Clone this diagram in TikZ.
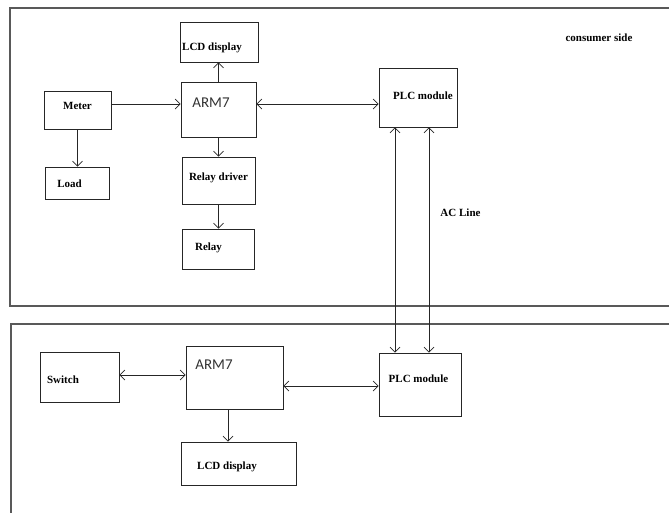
\documentclass[tikz,border=0pt]{standalone}
\usepackage{fontspec}
\setmainfont{Liberation Serif}
\newfontfamily\armfont{Carlito}
\usetikzlibrary{arrows.meta}

\begin{document}
\begin{tikzpicture}[x=1pt, y=-1pt, line width=0.7pt, color=black!85,
    box/.style={draw, rectangle, inner sep=0pt},
    lbl/.style={font=\bfseries\fontsize{11}{13}\selectfont, text=black},
    arm/.style={font=\armfont\fontsize{15}{17}\selectfont, text=black!80},
    frame/.style={draw=black!65, line width=1.1pt},
    arr/.style={-{Straight Barb[length=5pt,width=10pt]}},
    biarr/.style={{Straight Barb[length=5pt,width=10pt]}-{Straight Barb[length=5pt,width=10pt]}}]
    \useasboundingbox (0,0) rectangle (669,512);

    % the two sides
    \draw[frame] (10,8) rectangle (680,306);
    \draw[frame] (11,324) rectangle (680,525);

    % consumer side
    \node[box, minimum width=78pt, minimum height=40pt, label={[lbl, xshift=-7pt, yshift=-6pt]center:LCD display}] (lcdtop) at (219,42) {};
    \node[box, minimum width=75pt, minimum height=55pt, label={[arm, xshift=-7.5pt, yshift=6.5pt]center:ARM7}] (armtop) at (218.5,109.5) {};
    \node[box, minimum width=67pt, minimum height=38pt, label={[lbl, yshift=4pt]center:Meter}] (meter) at (77.5,110) {};
    \node[box, minimum width=64pt, minimum height=32pt, label={[lbl, xshift=-7.5pt, yshift=-1pt]center:Load}] (load) at (77,183) {};
    \node[box, minimum width=73pt, minimum height=47pt, label={[lbl, yshift=2.5pt]center:Relay driver}] (driver) at (218.5,180.5) {};
    \node[box, minimum width=72pt, minimum height=40pt, label={[lbl, xshift=-9.5pt, yshift=1pt]center:Relay}] (relay) at (218,249) {};
    \node[box, minimum width=78pt, minimum height=59pt, label={[lbl, xshift=5pt, yshift=1.5pt]center:PLC module}] (plctop) at (418,97.5) {};
    \node[lbl] (side) at (599,38) {consumer side};
    \node[lbl] (acline) at (460.5,213) {AC Line};

    % other side
    \node[box, minimum width=79pt, minimum height=50pt, label={[lbl, xshift=-16.5pt, yshift=-3pt]center:Switch}] (switch) at (79.5,377) {};
    \node[box, minimum width=97pt, minimum height=63pt, label={[arm, xshift=-20.5pt, yshift=12.5pt]center:ARM7}] (armbot) at (234.5,377.5) {};
    \node[box, minimum width=115pt, minimum height=43pt, label={[lbl, xshift=-11.5pt, yshift=-3.5pt]center:LCD display}] (lcdbot) at (238.5,463.5) {};
    \node[box, minimum width=82pt, minimum height=63pt, label={[lbl, xshift=-1.5pt, yshift=5.5pt]center:PLC module}] (plcbot) at (420,384.5) {};

    \draw[arr] ([yshift=6pt]meter.east) -- ([yshift=6pt]meter.east -| armtop.west);
    \draw[biarr] ([yshift=5.5pt]armtop.east) -- ([yshift=5.5pt]armtop.east -| plctop.west);
    \draw[arr] (armtop.north) -- (armtop.north |- lcdtop.south);
    \draw[arr] (meter.south) -- (meter.south |- load.north);
    \draw[arr] (armtop.south) -- (armtop.south |- driver.north);
    \draw[arr] (driver.south) -- (driver.south |- relay.north);
    \draw[biarr] ([xshift=-23pt]plctop.south) -- ([xshift=-23pt]plctop.south |- plcbot.north);
    \draw[biarr] ([xshift=11pt]plctop.south) -- ([xshift=11pt]plctop.south |- plcbot.north);

    \draw[biarr] ([yshift=2pt]switch.east) -- ([yshift=2pt]switch.east -| armbot.west);
    \draw[biarr] ([yshift=-8.5pt]armbot.east) -- ([yshift=-8.5pt]armbot.east -| plcbot.west);
    \draw[arr] ([xshift=-6.5pt]armbot.south) -- ([xshift=-6.5pt]armbot.south |- lcdbot.north);
\end{tikzpicture}
\end{document}
